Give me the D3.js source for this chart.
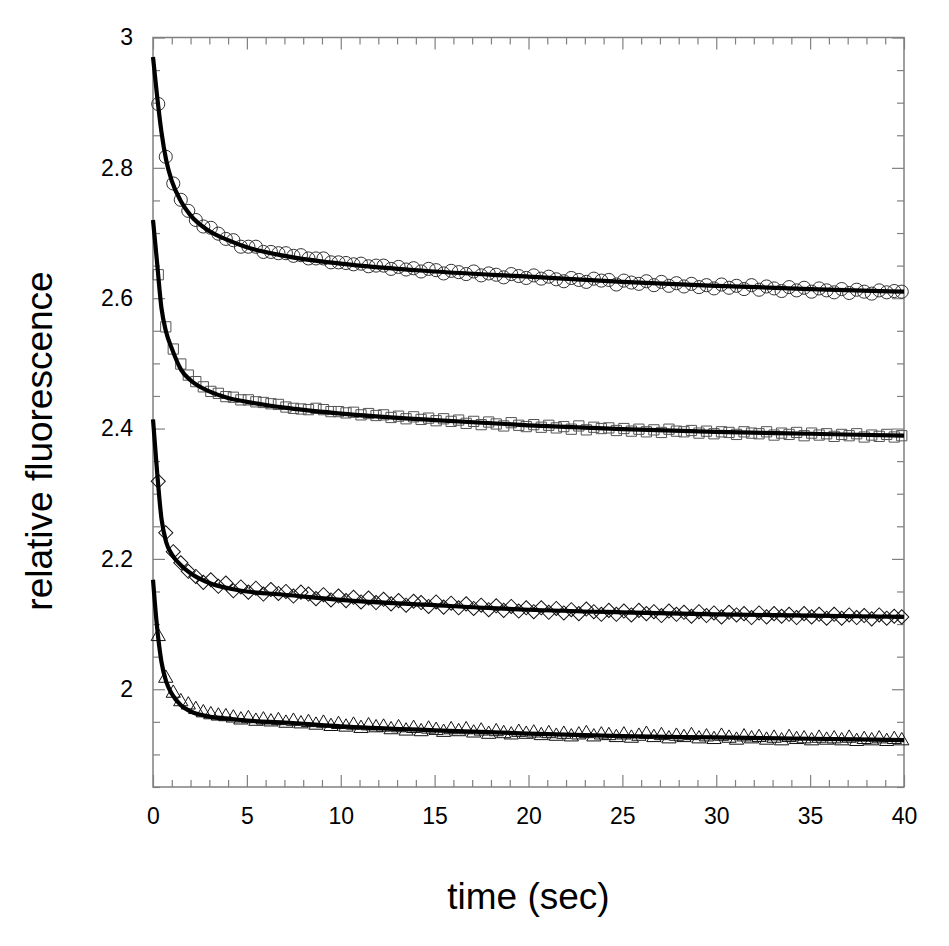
<!DOCTYPE html>
<html>
<head>
<meta charset="utf-8">
<script src="https://cdn.jsdelivr.net/npm/d3@7"></script>
<style>
	body { margin: 0; background: #ffffff; }
	svg { display: block; }
	text { font-family: "Liberation Sans", Arial, Helvetica, sans-serif; }
</style>
</head>
<body>
<div id="myChart"></div>
<script>
// sample times (sec)
var times = [
	0.28, 0.68, 1.08, 1.48, 1.88, 2.28, 2.68, 3.08, 3.48, 3.88,
	4.28, 4.68, 5.08, 5.48, 5.88, 6.28, 6.68, 7.08, 7.48, 7.88,
	8.28, 8.68, 9.08, 9.48, 9.88, 10.28, 10.68, 11.08, 11.48, 11.88,
	12.28, 12.68, 13.08, 13.48, 13.88, 14.28, 14.68, 15.08, 15.48, 15.88,
	16.28, 16.68, 17.08, 17.48, 17.88, 18.28, 18.68, 19.08, 19.48, 19.88,
	20.28, 20.68, 21.08, 21.48, 21.88, 22.28, 22.68, 23.08, 23.48, 23.88,
	24.28, 24.68, 25.08, 25.48, 25.88, 26.28, 26.68, 27.08, 27.48, 27.88,
	28.28, 28.68, 29.08, 29.48, 29.88, 30.28, 30.68, 31.08, 31.48, 31.88,
	32.28, 32.68, 33.08, 33.48, 33.88, 34.28, 34.68, 35.08, 35.48, 35.88,
	36.28, 36.68, 37.08, 37.48, 37.88, 38.28, 38.68, 39.08, 39.48, 39.88
];

var circleVals = [
	2.898, 2.817, 2.776, 2.751, 2.734, 2.720, 2.710, 2.708, 2.699, 2.691,
	2.689, 2.679, 2.679, 2.679, 2.671, 2.671, 2.669, 2.669, 2.665, 2.666,
	2.661, 2.661, 2.661, 2.655, 2.655, 2.654, 2.652, 2.653, 2.649, 2.650,
	2.650, 2.645, 2.648, 2.644, 2.646, 2.641, 2.645, 2.643, 2.638, 2.642,
	2.640, 2.637, 2.641, 2.635, 2.638, 2.636, 2.632, 2.637, 2.634, 2.631,
	2.635, 2.630, 2.633, 2.629, 2.626, 2.631, 2.628, 2.625, 2.630, 2.627,
	2.628, 2.621, 2.627, 2.624, 2.622, 2.626, 2.620, 2.625, 2.619, 2.623,
	2.618, 2.622, 2.617, 2.620, 2.615, 2.621, 2.616, 2.619, 2.614, 2.620,
	2.613, 2.618, 2.615, 2.611, 2.617, 2.612, 2.616, 2.610, 2.615, 2.612,
	2.609, 2.614, 2.608, 2.613, 2.610, 2.607, 2.612, 2.609, 2.611, 2.610
];

var squareVals = [
	2.636, 2.556, 2.522, 2.499, 2.482, 2.472, 2.464, 2.457, 2.454, 2.449,
	2.448, 2.444, 2.444, 2.441, 2.440, 2.438, 2.437, 2.433, 2.431, 2.430,
	2.429, 2.431, 2.429, 2.426, 2.426, 2.424, 2.425, 2.421, 2.423, 2.420,
	2.421, 2.417, 2.419, 2.415, 2.418, 2.414, 2.416, 2.412, 2.415, 2.411,
	2.413, 2.408, 2.411, 2.406, 2.410, 2.407, 2.404, 2.409, 2.405, 2.403,
	2.406, 2.402, 2.405, 2.401, 2.403, 2.399, 2.404, 2.398, 2.402, 2.400,
	2.401, 2.397, 2.400, 2.396, 2.399, 2.395, 2.398, 2.394, 2.399, 2.396,
	2.395, 2.397, 2.393, 2.396, 2.392, 2.395, 2.394, 2.391, 2.395, 2.393,
	2.392, 2.395, 2.390, 2.393, 2.391, 2.394, 2.389, 2.393, 2.390, 2.392,
	2.388, 2.391, 2.389, 2.392, 2.387, 2.390, 2.388, 2.391, 2.387, 2.389
];

var diamondVals = [
	2.319, 2.240, 2.211, 2.194, 2.181, 2.173, 2.164, 2.168, 2.158, 2.163,
	2.151, 2.157, 2.149, 2.155, 2.146, 2.153, 2.147, 2.150, 2.143, 2.149,
	2.146, 2.139, 2.145, 2.137, 2.143, 2.136, 2.141, 2.134, 2.140, 2.133,
	2.138, 2.131, 2.136, 2.129, 2.135, 2.133, 2.127, 2.134, 2.126, 2.132,
	2.125, 2.131, 2.124, 2.129, 2.122, 2.128, 2.121, 2.127, 2.120, 2.125,
	2.119, 2.125, 2.118, 2.124, 2.117, 2.122, 2.116, 2.123, 2.119, 2.115,
	2.121, 2.115, 2.120, 2.114, 2.121, 2.116, 2.119, 2.113, 2.120, 2.115,
	2.118, 2.112, 2.119, 2.113, 2.117, 2.111, 2.118, 2.114, 2.116, 2.110,
	2.117, 2.111, 2.116, 2.112, 2.115, 2.110, 2.116, 2.111, 2.115, 2.109,
	2.115, 2.109, 2.114, 2.110, 2.113, 2.108, 2.114, 2.109, 2.112, 2.111
];

var triangleVals = [
	2.081, 2.017, 1.994, 1.981, 1.976, 1.969, 1.964, 1.961, 1.959, 1.958,
	1.956, 1.953, 1.955, 1.951, 1.953, 1.950, 1.952, 1.948, 1.951, 1.947,
	1.949, 1.945, 1.948, 1.943, 1.946, 1.942, 1.945, 1.940, 1.944, 1.941,
	1.942, 1.938, 1.941, 1.936, 1.940, 1.935, 1.939, 1.937, 1.934, 1.938,
	1.935, 1.938, 1.933, 1.936, 1.931, 1.935, 1.932, 1.930, 1.934, 1.931,
	1.933, 1.929, 1.932, 1.928, 1.931, 1.927, 1.930, 1.932, 1.927, 1.930,
	1.929, 1.926, 1.930, 1.925, 1.928, 1.931, 1.926, 1.929, 1.924, 1.928,
	1.926, 1.929, 1.924, 1.927, 1.923, 1.928, 1.925, 1.922, 1.927, 1.924,
	1.926, 1.922, 1.925, 1.921, 1.926, 1.923, 1.924, 1.921, 1.925, 1.922,
	1.924, 1.921, 1.925, 1.920, 1.923, 1.921, 1.924, 1.920, 1.923, 1.921
];

var fitTimes = [0, 0.2, 0.45, 0.7, 1, 1.5, 2, 3, 4, 5, 7, 10, 15, 20, 25, 30, 35, 40];
var circleFit   = [2.970, 2.915, 2.855, 2.812, 2.780, 2.748, 2.727, 2.703, 2.689, 2.678, 2.665, 2.653, 2.641, 2.633, 2.625, 2.619, 2.614, 2.610];
var squareFit   = [2.720, 2.660, 2.585, 2.548, 2.523, 2.490, 2.474, 2.457, 2.447, 2.441, 2.432, 2.423, 2.413, 2.405, 2.399, 2.395, 2.392, 2.389];
var diamondFit  = [2.414, 2.340, 2.262, 2.226, 2.207, 2.190, 2.178, 2.163, 2.155, 2.150, 2.145, 2.137, 2.129, 2.122, 2.118, 2.115, 2.113, 2.111];
var triangleFit = [2.168, 2.100, 2.042, 2.012, 1.993, 1.975, 1.966, 1.958, 1.955, 1.952, 1.949, 1.943, 1.937, 1.932, 1.928, 1.926, 1.924, 1.922];

var xTicks = [0, 5, 10, 15, 20, 25, 30, 35, 40];
var yTicks = [2, 2.2, 2.4, 2.6, 2.8, 3];

function plotChart() {
	var width = 949, height = 946;
	var left = 153, right = 904, top = 37.5, bottom = 787;
	var frameColor = '#808080';

	var svg = d3.select('#myChart')
		.append('svg')
		.attr('width', width)
		.attr('height', height);

	var x = d3.scaleLinear().domain([0, 40]).range([left, right]);
	var y = d3.scaleLinear().domain([1.85, 3]).range([bottom, top]);

	var xMinor = d3.range(0, 41, 1).filter(function (d) { return d % 5 != 0; });
	var yMinor = d3.range(1.85, 3.001, 0.05).filter(function (d) {
		return Math.abs(d * 5 - Math.round(d * 5)) > 0.01;
	});

	// frame
	svg.append('rect')
		.attr('x', left)
		.attr('y', top)
		.attr('width', right - left)
		.attr('height', bottom - top)
		.attr('fill', 'none')
		.attr('stroke', frameColor)
		.attr('stroke-width', 1.5);

	function styleAxis(g) {
		g.select('.domain').remove();
		g.selectAll('.tick line').attr('stroke', frameColor).attr('stroke-width', 1.2);
		g.selectAll('.tick text')
			.attr('fill', '#000')
			.style('font-size', '23px')
			.style('font-family', '"Liberation Sans", Arial, sans-serif');
	}

	// bottom + top, major and minor, ticks pointing inward
	svg.append('g').attr('transform', 'translate(0,' + bottom + ')')
		.call(d3.axisBottom(x).tickValues(xTicks).tickSizeInner(-12).tickSizeOuter(0).tickPadding(21).tickFormat(d3.format('d')))
		.call(styleAxis);
	svg.append('g').attr('transform', 'translate(0,' + bottom + ')')
		.call(d3.axisBottom(x).tickValues(xMinor).tickSizeInner(-7).tickSizeOuter(0).tickFormat(''))
		.call(styleAxis);
	svg.append('g').attr('transform', 'translate(0,' + top + ')')
		.call(d3.axisTop(x).tickValues(xTicks).tickSizeInner(-12).tickSizeOuter(0).tickFormat(''))
		.call(styleAxis);
	svg.append('g').attr('transform', 'translate(0,' + top + ')')
		.call(d3.axisTop(x).tickValues(xMinor).tickSizeInner(-7).tickSizeOuter(0).tickFormat(''))
		.call(styleAxis);

	// left + right
	svg.append('g').attr('transform', 'translate(' + left + ',0)')
		.call(d3.axisLeft(y).tickValues(yTicks).tickSizeInner(-12).tickSizeOuter(0).tickPadding(20).tickFormat(d3.format('~f')))
		.call(styleAxis);
	svg.append('g').attr('transform', 'translate(' + left + ',0)')
		.call(d3.axisLeft(y).tickValues(yMinor).tickSizeInner(-7).tickSizeOuter(0).tickFormat(''))
		.call(styleAxis);
	svg.append('g').attr('transform', 'translate(' + right + ',0)')
		.call(d3.axisRight(y).tickValues(yTicks).tickSizeInner(-12).tickSizeOuter(0).tickFormat(''))
		.call(styleAxis);
	svg.append('g').attr('transform', 'translate(' + right + ',0)')
		.call(d3.axisRight(y).tickValues(yMinor).tickSizeInner(-7).tickSizeOuter(0).tickFormat(''))
		.call(styleAxis);

	// axis titles
	svg.append('text')
		.attr('x', (left + right) / 2)
		.attr('y', 909)
		.attr('text-anchor', 'middle')
		.style('font-size', '37px')
		.text('time (sec)');

	svg.append('text')
		.attr('transform', 'translate(52,441) rotate(-90)')
		.attr('text-anchor', 'middle')
		.style('font-size', '37px')
		.text('relative fluorescence');

	// data markers
	var series = [
		{ vals: circleVals, fit: circleFit, symbol: d3.symbolCircle, size: 135, stroke: '#333', rot: 0 },
		{ vals: squareVals, fit: squareFit, symbol: d3.symbolSquare, size: 105, stroke: '#555', rot: 0 },
		{ vals: diamondVals, fit: diamondFit, symbol: d3.symbolSquare, size: 100, stroke: '#111', rot: 45 },
		{ vals: triangleVals, fit: triangleFit, symbol: d3.symbolTriangle, size: 88, stroke: '#111', rot: 0 }
	];

	series.forEach(function (s) {
		var sym = d3.symbol().type(s.symbol).size(s.size);
		svg.append('g').selectAll('path')
			.data(s.vals)
			.enter().append('path')
			.attr('d', sym)
			.attr('transform', function (d, i) {
				return 'translate(' + x(times[i]) + ',' + y(d) + ') rotate(' + s.rot + ')';
			})
			.attr('fill', 'none')
			.attr('stroke', s.stroke)
			.attr('stroke-width', 1);
	});

	// fitted lines on top
	var line = d3.line()
		.x(function (d, i) { return x(fitTimes[i]); })
		.y(function (d) { return y(d); })
		.curve(d3.curveMonotoneX);

	series.forEach(function (s) {
		svg.append('path')
			.datum(s.fit)
			.attr('d', line)
			.attr('fill', 'none')
			.attr('stroke', '#000')
			.attr('stroke-width', 4.2);
	});
}

document.addEventListener('DOMContentLoaded', plotChart, false);
</script>
</body>
</html>
